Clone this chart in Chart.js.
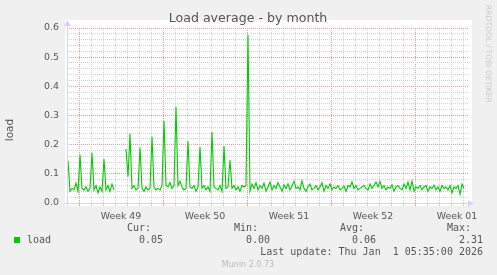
<!DOCTYPE html>
<html><head><meta charset="utf-8">
<script src="https://cdn.jsdelivr.net/npm/chart.js@4.4.1/dist/chart.umd.min.js"></script>
<style>html,body{margin:0;padding:0;background:#f0f0f0;overflow:hidden}canvas{display:block}</style>
</head><body>
<canvas id="c" width="497" height="275"></canvas>
<script>
// ---- data (hours relative to Mon 1 Dec 2025 00:00, one sample every 4 h) ----
const startHour = -26;
const stepHours = 4;
const loadValues = [
  0.04, 0.145, 0.04, 0.05, 0.045, 0.068, 0.04, 0.165, 0.05, 0.045,
  0.055, 0.04, 0.05, 0.172, 0.045, 0.06, 0.035, 0.055, 0.04, 0.151,
  0.045, 0.06, 0.04, 0.065, 0.045, null, null, null, null, null,
  0.185, 0.09, 0.237, 0.05, 0.06, 0.045, 0.05, 0.19, 0.05, 0.04,
  0.055, 0.045, 0.05, 0.227, 0.055, 0.045, 0.05, 0.045, 0.06, 0.281,
  0.06, 0.055, 0.07, 0.05, 0.06, 0.329, 0.06, 0.075, 0.055, 0.045,
  0.05, 0.212, 0.055, 0.05, 0.06, 0.04, 0.055, 0.192, 0.05, 0.06,
  0.045, 0.055, 0.04, 0.243, 0.055, 0.05, 0.045, 0.06, 0.04, 0.195,
  0.05, 0.055, 0.147, 0.05, 0.06, 0.045, 0.055, 0.04, 0.06, 0.055,
  0.06, 0.576, 0.04, 0.065, 0.05, 0.07, 0.045, 0.06, 0.05, 0.068,
  0.04, 0.055, 0.072, 0.045, 0.06, 0.05, 0.07, 0.055, 0.04, 0.062,
  0.05, 0.066, 0.045, 0.058, 0.075, 0.05, 0.055, 0.045, 0.076, 0.05,
  0.04, 0.055, 0.065, 0.045, 0.05, 0.06, 0.045, 0.055, 0.07, 0.04,
  0.06, 0.05, 0.065, 0.045, 0.055, 0.05, 0.06, 0.045, 0.05, 0.058,
  0.04, 0.06, 0.055, 0.072, 0.05, 0.06, 0.045, 0.05, 0.055, 0.06,
  0.05, 0.045, 0.065, 0.05, 0.06, 0.072, 0.055, 0.074, 0.05, 0.06,
  0.045, 0.055, 0.05, 0.062, 0.04, 0.055, 0.06, 0.05, 0.045, 0.065,
  0.05, 0.072, 0.045, 0.075, 0.04, 0.055, 0.05, 0.06, 0.045, 0.055,
  0.06, 0.04, 0.055, 0.05, 0.062, 0.045, 0.055, 0.04, 0.06, 0.05,
  0.055, 0.045, 0.06, 0.035, 0.055, 0.05, 0.06, 0.03, 0.065, 0.05
];
const axisMinHour = -24;
const axisMaxHour = 778;
const weekLabels = ['Week 49', 'Week 50', 'Week 51', 'Week 52', 'Week 01'];
const weekStartHours = [0, 168, 336, 504, 672];
const yMin = 0, yMax = 0.6, yMinorStep = 0.02;
const yLabelTicks = [0.0, 0.1, 0.2, 0.3, 0.4, 0.5, 0.6];

const seriesName = 'load';
const statNames = ['Cur:', 'Min:', 'Avg:', 'Max:'];
const statValues = ['0.05', '0.00', '0.06', '2.31'];
const titleText = 'Load average - by month';
const yTitle = 'load';
const lastUpdate = 'Last update: Thu Jan  1 05:35:00 2026';
const footer = 'Munin 2.0.73';
const sideText = 'RRDTOOL / TOBI OETIKER';

// ---- styles ----
const FONT = '#555555';
const MINOR = '#d2d2d2';
const MAJOR = '#e6a0a0';
const AXIS = '#cfd6f8';
const GREEN = '#00cc00';

const points = loadValues.map((v, i) => ({ x: startHour + stepHours * i, y: v }));

const isMajorY = v => yLabelTicks.some(t => Math.abs(t - v) < 1e-6);

const muninPlugin = {
  id: 'munin',
  beforeDraw(chart) {
    const { ctx, chartArea: a } = chart;
    ctx.save();
    ctx.fillStyle = '#f0f0f0';
    ctx.fillRect(0, 0, chart.width, chart.height);
    ctx.fillStyle = '#ffffff';
    ctx.fillRect(a.left - 2, a.top - 8, a.right - a.left + 6, a.bottom - a.top + 11);
    ctx.restore();
  },
  afterDraw(chart) {
    const { ctx, chartArea: a } = chart;
    ctx.save();
    // axes with arrows
    ctx.strokeStyle = AXIS; ctx.fillStyle = AXIS; ctx.lineWidth = 1;
    ctx.beginPath();
    ctx.moveTo(a.left + 0.5, a.bottom + 3); ctx.lineTo(a.left + 0.5, a.top - 5);
    ctx.moveTo(a.left - 3, a.bottom + 0.5); ctx.lineTo(a.right + 2, a.bottom + 0.5);
    ctx.stroke();
    ctx.beginPath();
    ctx.moveTo(a.left + 0.5, a.top - 8); ctx.lineTo(a.left - 3, a.top - 2); ctx.lineTo(a.left + 4, a.top - 2); ctx.closePath(); ctx.fill();
    ctx.beginPath();
    ctx.moveTo(a.right + 6, a.bottom + 0.5); ctx.lineTo(a.right, a.bottom - 3); ctx.lineTo(a.right, a.bottom + 4); ctx.closePath(); ctx.fill();

    // title
    ctx.fillStyle = FONT;
    ctx.textBaseline = 'middle';
    ctx.textAlign = 'center';
    ctx.font = '12.6px "DejaVu Sans"';
    ctx.fillText(titleText, 248, 19);

    // y title
    ctx.save();
    ctx.translate(10, 130);
    ctx.rotate(-Math.PI / 2);
    ctx.font = '10.5px "DejaVu Sans"';
    ctx.fillText(yTitle, 0, 0);
    ctx.restore();

    // side text
    ctx.save();
    ctx.translate(488, 5);
    ctx.rotate(Math.PI / 2);
    ctx.textAlign = 'left';
    ctx.fillStyle = '#cccccc';
    ctx.font = '7.6px "DejaVu Sans"';
    ctx.fillText(sideText, 0, 0);
    ctx.restore();

    // legend
    ctx.fillStyle = GREEN;
    ctx.fillRect(14, 237, 6, 6);
    ctx.fillStyle = FONT;
    ctx.font = '10px "DejaVu Sans Mono"';
    ctx.textAlign = 'left';
    ctx.fillText(seriesName, 27, 240);
    const nameX = [127, 234, 340, 447];
    const valRight = [163, 270, 376, 483];
    statNames.forEach((n, i) => {
      ctx.textAlign = 'left';
      ctx.fillText(n, nameX[i], 228);
      ctx.textAlign = 'right';
      ctx.fillText(statValues[i], valRight[i], 240);
    });
    ctx.textAlign = 'right';
    ctx.fillText(lastUpdate, 483, 252);

    ctx.textAlign = 'center';
    ctx.fillStyle = '#bbbbbb';
    ctx.font = '8px "DejaVu Sans"';
    ctx.fillText(footer, 248, 265);
    ctx.restore();
  }
};

new Chart(document.getElementById('c'), {
  type: 'line',
  data: {
    datasets: [{
      label: seriesName,
      data: points,
      borderColor: GREEN,
      borderWidth: 1.1,
      pointRadius: 0,
      tension: 0,
      spanGaps: false,
      fill: false
    }]
  },
  options: {
    responsive: false,
    animation: false,
    devicePixelRatio: 1,
    layout: { padding: { left: 0, top: 28, right: 29, bottom: 52 } },
    plugins: { legend: { display: false }, title: { display: false }, tooltip: { enabled: false } },
    scales: {
      x: {
        type: 'linear', position: 'bottom', weight: 0, min: axisMinHour, max: axisMaxHour,
        afterBuildTicks: s => {
          const t = [];
          for (let h = 0; h <= axisMaxHour; h += 24) t.push({ value: h });
          s.ticks = t;
        },
        ticks: { display: false, autoSkip: false },
        grid: {
          color: c => (c.tick && c.tick.value % 168 === 0) ? MAJOR : MINOR,
          tickColor: c => (c.tick && c.tick.value % 168 === 0) ? MAJOR : MINOR,
          lineWidth: 1, drawTicks: true, tickLength: 3
        },
        border: { display: false, dash: [1, 1] },
        afterFit: s => { s.height = 0; }
      },
      xw: {
        type: 'linear', position: 'bottom', weight: 1, min: axisMinHour, max: axisMaxHour,
        afterBuildTicks: s => { s.ticks = weekStartHours.map(h => ({ value: h + 84 })); },
        ticks: {
          autoSkip: false, maxRotation: 0, color: FONT, padding: 0,
          font: { family: 'DejaVu Sans', size: 9.4 },
          callback: (v, i) => weekLabels[i]
        },
        grid: { display: false },
        border: { display: false },
        afterFit: s => { s.height = 20; }
      },
      y: {
        type: 'linear', min: yMin, max: yMax,
        afterBuildTicks: s => {
          const t = [];
          for (let k = 0; k <= Math.round((yMax - yMin) / yMinorStep); k++) t.push({ value: +(yMin + k * yMinorStep).toFixed(2) });
          s.ticks = t;
        },
        ticks: {
          autoSkip: false, color: FONT, padding: 8,
          font: { family: 'DejaVu Sans', size: 9.4 },
          callback: v => isMajorY(v) ? v.toFixed(1) : ''
        },
        grid: {
          color: c => (c.tick && isMajorY(c.tick.value)) ? MAJOR : MINOR,
          lineWidth: 1, drawTicks: false
        },
        border: { display: false, dash: [1, 1] },
        afterFit: s => { s.width = 67; }
      }
    }
  },
  plugins: [muninPlugin]
});
</script>
</body></html>
